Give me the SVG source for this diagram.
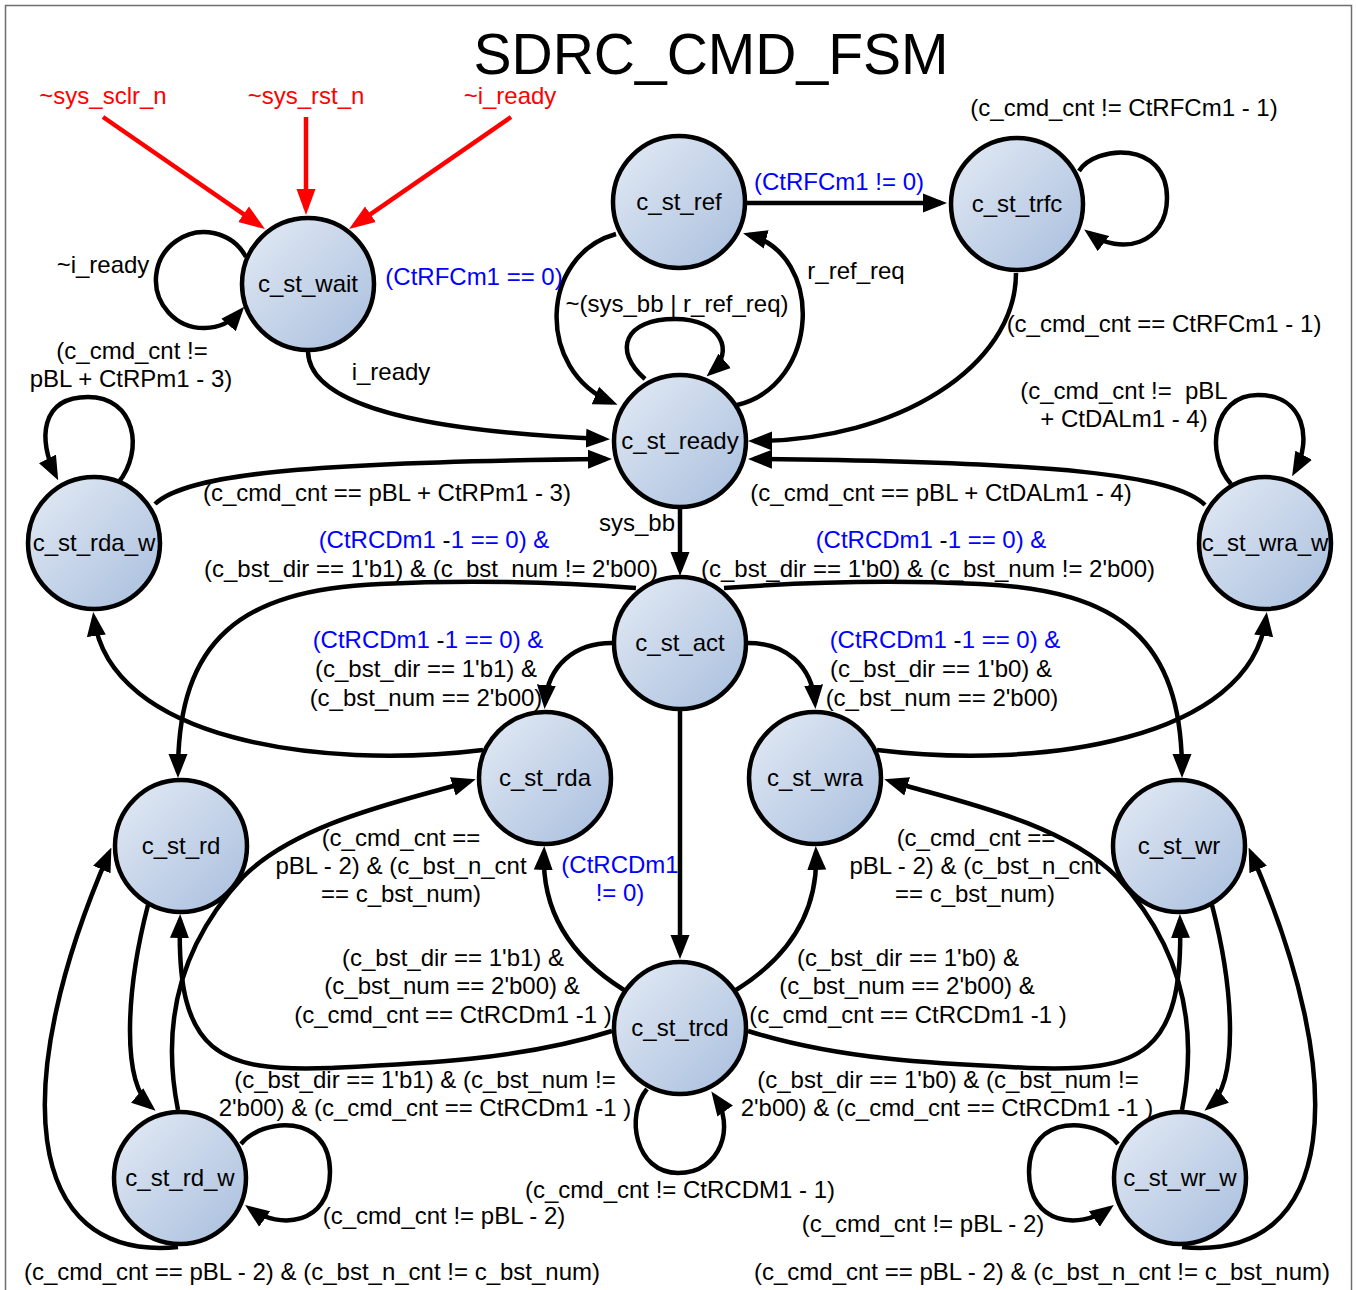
<svg xmlns="http://www.w3.org/2000/svg" width="1356" height="1290" viewBox="0 0 1356 1290">
  <defs>
    <linearGradient id="nodeFill" x1="0" y1="0" x2="1" y2="1">
      <stop offset="0" stop-color="#e4ebf5"/>
      <stop offset="1" stop-color="#a8bedd"/>
    </linearGradient>
    <marker id="ah" markerUnits="userSpaceOnUse" markerWidth="24" markerHeight="20" viewBox="0 0 24 20" refX="18" refY="10" orient="auto">
      <path d="M0,0.5 L24,10 L0,19.5 z" fill="#000"/>
    </marker>
    <marker id="ahRed" markerUnits="userSpaceOnUse" markerWidth="26" markerHeight="20" viewBox="0 0 26 20" refX="20" refY="10" orient="auto">
      <path d="M0,0.5 L26,10 L0,19.5 z" fill="#ff0000"/>
    </marker>
  </defs>
  <style>
    text { font-family: "Liberation Sans", Arial, sans-serif; font-size: 24px; fill: #000; }
    .lbl { text-anchor: middle; }
    .blue, .blue tspan { fill: #0000ff; }
    tspan.k { fill: #000; }
    .red { fill: #ff0000; }
    .title { font-size: 57px; text-anchor: middle; }
    .node circle { fill: url(#nodeFill); stroke: #000; stroke-width: 4.5; }
    .node text { text-anchor: middle; }
    .edges path { fill: none; stroke: #000; stroke-width: 4.5; marker-end: url(#ah); }
    .edges path.init { stroke: #ff0000; stroke-width: 4.5; marker-end: url(#ahRed); }
  </style>

  <rect x="5.5" y="5.5" width="1346" height="1300" fill="#fff" stroke="#6e6e6e" stroke-width="1.5"/>

  <text class="title" x="711" y="74">SDRC_CMD_FSM</text>

  <!-- transitions -->
  <g id="connectors" class="edges">
    <!-- reset / init inputs into c_st_wait -->
    <path class="init" d="M103 117 L260 225.6"/>
    <path class="init" d="M306 117 L306 209"/>
    <path class="init" d="M511 117 L354 225.6"/>

    <!-- c_st_wait -->
    <path d="M246 257 A48 48 0 1 0 240.3 311.4"/>
    <path d="M308 352 C310 410 440 432 604 439"/>

    <!-- refresh cycle -->
    <path d="M616 234 C540 255 535 370 612 402.4"/>
    <path d="M737 405 C820 385 825 255 748.8 234.7"/>
    <path d="M645 379 C612 350 625 319 675 319 C722 319 735 352 711 372.5"/>
    <path d="M747 203 L941 203"/>
    <path d="M1079 171 C1095 145 1167 140 1167 198 C1167 245 1120 256 1089 233"/>
    <path d="M1016 273 C1016 366 898 441 754 441"/>

    <!-- ready / activate -->
    <path d="M680 509 L680 570"/>
    <path d="M155 504 C185 475 300 462 606 459"/>
    <path d="M1205 505 C1175 475 1060 462 754 459"/>
    <path d="M118 483 C145 450 135 397 88 397 C40 397 38 440 55.5 475"/>
    <path d="M1231 484 C1205 455 1212 395 1258 395 C1305 395 1312 440 1295 471"/>

    <!-- from c_st_act -->
    <path d="M636 588 Q500 578 380 584 C240 590 178 640 178 772"/>
    <path d="M724 588 Q860 578 980 584 C1120 590 1182 640 1182 772"/>
    <path d="M612 643 C575 643 548 665 545 703"/>
    <path d="M748 643 C785 643 812 665 815 703"/>
    <path d="M680 711 L680 953"/>

    <!-- auto-precharge waits -->
    <path d="M483 750 C320 770 110 740 94 618"/>
    <path d="M877 750 C1040 770 1250 740 1266 618"/>

    <!-- from c_st_trcd -->
    <path d="M624 990 C560 950 542 900 544 852"/>
    <path d="M736 990 C800 950 818 900 816 852"/>
    <path d="M612 1031 C520 1060 420 1064 330 1068 C220 1072 176 1055 180 920"/>
    <path d="M748 1031 C840 1060 940 1064 1030 1068 C1140 1072 1184 1055 1180 920"/>
    <path d="M647 1089 C625 1115 635 1173 678 1173 C722 1173 735 1125 714.8 1096.4"/>

    <!-- read burst -->
    <path d="M148 905 C126 990 121 1082 151 1107"/>
    <path d="M178 1110 C162 1030 175 950 243 877 C300 820 413 799 470 781"/>
    <path d="M178 1247 C20 1262 10 1080 109 853"/>
    <path d="M241 1144 C262 1118 330 1112 330 1172 C330 1225 280 1230 250 1208.6"/>

    <!-- write burst -->
    <path d="M1212 905 C1234 990 1239 1082 1209 1107"/>
    <path d="M1182 1110 C1198 1030 1185 950 1117 877 C1060 820 947 799 890 781"/>
    <path d="M1182 1247 C1340 1262 1350 1080 1251 853"/>
    <path d="M1118 1144 C1097 1118 1029 1112 1029 1172 C1029 1225 1079 1230 1109 1208.6"/>
  </g>

  <!-- states -->
  <g id="c_st_wait" class="node"><circle cx="308" cy="284" r="66"/><text x="308" y="292">c_st_wait</text></g>
  <g id="c_st_ref" class="node"><circle cx="679" cy="202" r="66"/><text x="679" y="210">c_st_ref</text></g>
  <g id="c_st_trfc" class="node"><circle cx="1017" cy="204" r="66"/><text x="1017" y="212">c_st_trfc</text></g>
  <g id="c_st_ready" class="node"><circle cx="680" cy="441" r="66"/><text x="680" y="449">c_st_ready</text></g>
  <g id="c_st_rda_w" class="node"><circle cx="94" cy="543" r="66"/><text x="94" y="551">c_st_rda_w</text></g>
  <g id="c_st_wra_w" class="node"><circle cx="1265" cy="543" r="66"/><text x="1265" y="551">c_st_wra_w</text></g>
  <g id="c_st_act" class="node"><circle cx="680" cy="643" r="66"/><text x="680" y="651">c_st_act</text></g>
  <g id="c_st_rda" class="node"><circle cx="545" cy="778" r="66"/><text x="545" y="786">c_st_rda</text></g>
  <g id="c_st_wra" class="node"><circle cx="815" cy="778" r="66"/><text x="815" y="786">c_st_wra</text></g>
  <g id="c_st_rd" class="node"><circle cx="181" cy="846" r="66"/><text x="181" y="854">c_st_rd</text></g>
  <g id="c_st_wr" class="node"><circle cx="1179" cy="846" r="66"/><text x="1179" y="854">c_st_wr</text></g>
  <g id="c_st_trcd" class="node"><circle cx="680" cy="1028" r="66"/><text x="680" y="1036">c_st_trcd</text></g>
  <g id="c_st_rd_w" class="node"><circle cx="180" cy="1178" r="66"/><text x="180" y="1186">c_st_rd_w</text></g>
  <g id="c_st_wr_w" class="node"><circle cx="1180" cy="1178" r="66"/><text x="1180" y="1186">c_st_wr_w</text></g>

  <!-- transition conditions -->
  <g id="labels" class="lbl">
    <text class="red" x="103" y="104">~sys_sclr_n</text>
    <text class="red" x="306" y="104">~sys_rst_n</text>
    <text class="red" x="510" y="104">~i_ready</text>

    <text x="1124" y="116">(c_cmd_cnt != CtRFCm1 - 1)</text>
    <text class="blue" x="839" y="190">(CtRFCm1 != 0)</text>
    <text x="103" y="273">~i_ready</text>
    <text class="blue" x="474" y="285">(CtRFCm1 == 0)</text>
    <text x="856" y="279">r_ref_req</text>
    <text x="677" y="312">~(sys_bb | r_ref_req)</text>
    <text x="1164" y="332">(c_cmd_cnt == CtRFCm1 - 1)</text>
    <text x="132" y="359">(c_cmd_cnt !=</text>
    <text x="131" y="387">pBL + CtRPm1 - 3)</text>
    <text x="391" y="380">i_ready</text>
    <text x="1124" y="399" xml:space="preserve">(c_cmd_cnt !=  pBL</text>
    <text x="1124" y="427">+ CtDALm1 - 4)</text>

    <text x="387" y="501">(c_cmd_cnt == pBL + CtRPm1 - 3)</text>
    <text x="941" y="501">(c_cmd_cnt == pBL + CtDALm1 - 4)</text>
    <text x="637" y="531">sys_bb</text>

    <text class="blue" x="434" y="548"><tspan>(CtRCDm1</tspan><tspan class="k"> -</tspan><tspan>1 == 0) &amp;</tspan></text>
    <text x="431" y="577">(c_bst_dir == 1'b1) &amp; (c_bst_num != 2'b00)</text>
    <text class="blue" x="931" y="548"><tspan>(CtRCDm1</tspan><tspan class="k"> -</tspan><tspan>1 == 0) &amp;</tspan></text>
    <text x="928" y="577">(c_bst_dir == 1'b0) &amp; (c_bst_num != 2'b00)</text>

    <text class="blue" x="428" y="648"><tspan>(CtRCDm1</tspan><tspan class="k"> -</tspan><tspan>1 == 0) &amp;</tspan></text>
    <text x="426" y="677">(c_bst_dir == 1'b1) &amp;</text>
    <text x="426" y="706">(c_bst_num == 2'b00)</text>
    <text class="blue" x="945" y="648"><tspan>(CtRCDm1</tspan><tspan class="k"> -</tspan><tspan>1 == 0) &amp;</tspan></text>
    <text x="941" y="677">(c_bst_dir == 1'b0) &amp;</text>
    <text x="942" y="706">(c_bst_num == 2'b00)</text>

    <text x="401" y="846">(c_cmd_cnt ==</text>
    <text x="401" y="874">pBL - 2) &amp; (c_bst_n_cnt</text>
    <text x="401" y="902">== c_bst_num)</text>
    <text x="976" y="846">(c_cmd_cnt ==</text>
    <text x="975" y="874">pBL - 2) &amp; (c_bst_n_cnt</text>
    <text x="975" y="902">== c_bst_num)</text>

    <text class="blue" x="620" y="873">(CtRCDm1</text>
    <text class="blue" x="620" y="901">!= 0)</text>

    <text x="453" y="966">(c_bst_dir == 1'b1) &amp;</text>
    <text x="452" y="994">(c_bst_num == 2'b00) &amp;</text>
    <text x="453" y="1023">(c_cmd_cnt == CtRCDm1 -1 )</text>
    <text x="908" y="966">(c_bst_dir == 1'b0) &amp;</text>
    <text x="907" y="994">(c_bst_num == 2'b00) &amp;</text>
    <text x="908" y="1023">(c_cmd_cnt == CtRCDm1 -1 )</text>

    <text x="425" y="1088">(c_bst_dir == 1'b1) &amp; (c_bst_num !=</text>
    <text x="425" y="1116">2'b00) &amp; (c_cmd_cnt == CtRCDm1 -1 )</text>
    <text x="948" y="1088">(c_bst_dir == 1'b0) &amp; (c_bst_num !=</text>
    <text x="947" y="1116">2'b00) &amp; (c_cmd_cnt == CtRCDm1 -1 )</text>

    <text x="680" y="1198">(c_cmd_cnt != CtRCDM1 - 1)</text>
    <text x="444" y="1224">(c_cmd_cnt != pBL - 2)</text>
    <text x="923" y="1232">(c_cmd_cnt != pBL - 2)</text>
    <text x="312" y="1280">(c_cmd_cnt == pBL - 2) &amp; (c_bst_n_cnt != c_bst_num)</text>
    <text x="1042" y="1280">(c_cmd_cnt == pBL - 2) &amp; (c_bst_n_cnt != c_bst_num)</text>
  </g>
</svg>
